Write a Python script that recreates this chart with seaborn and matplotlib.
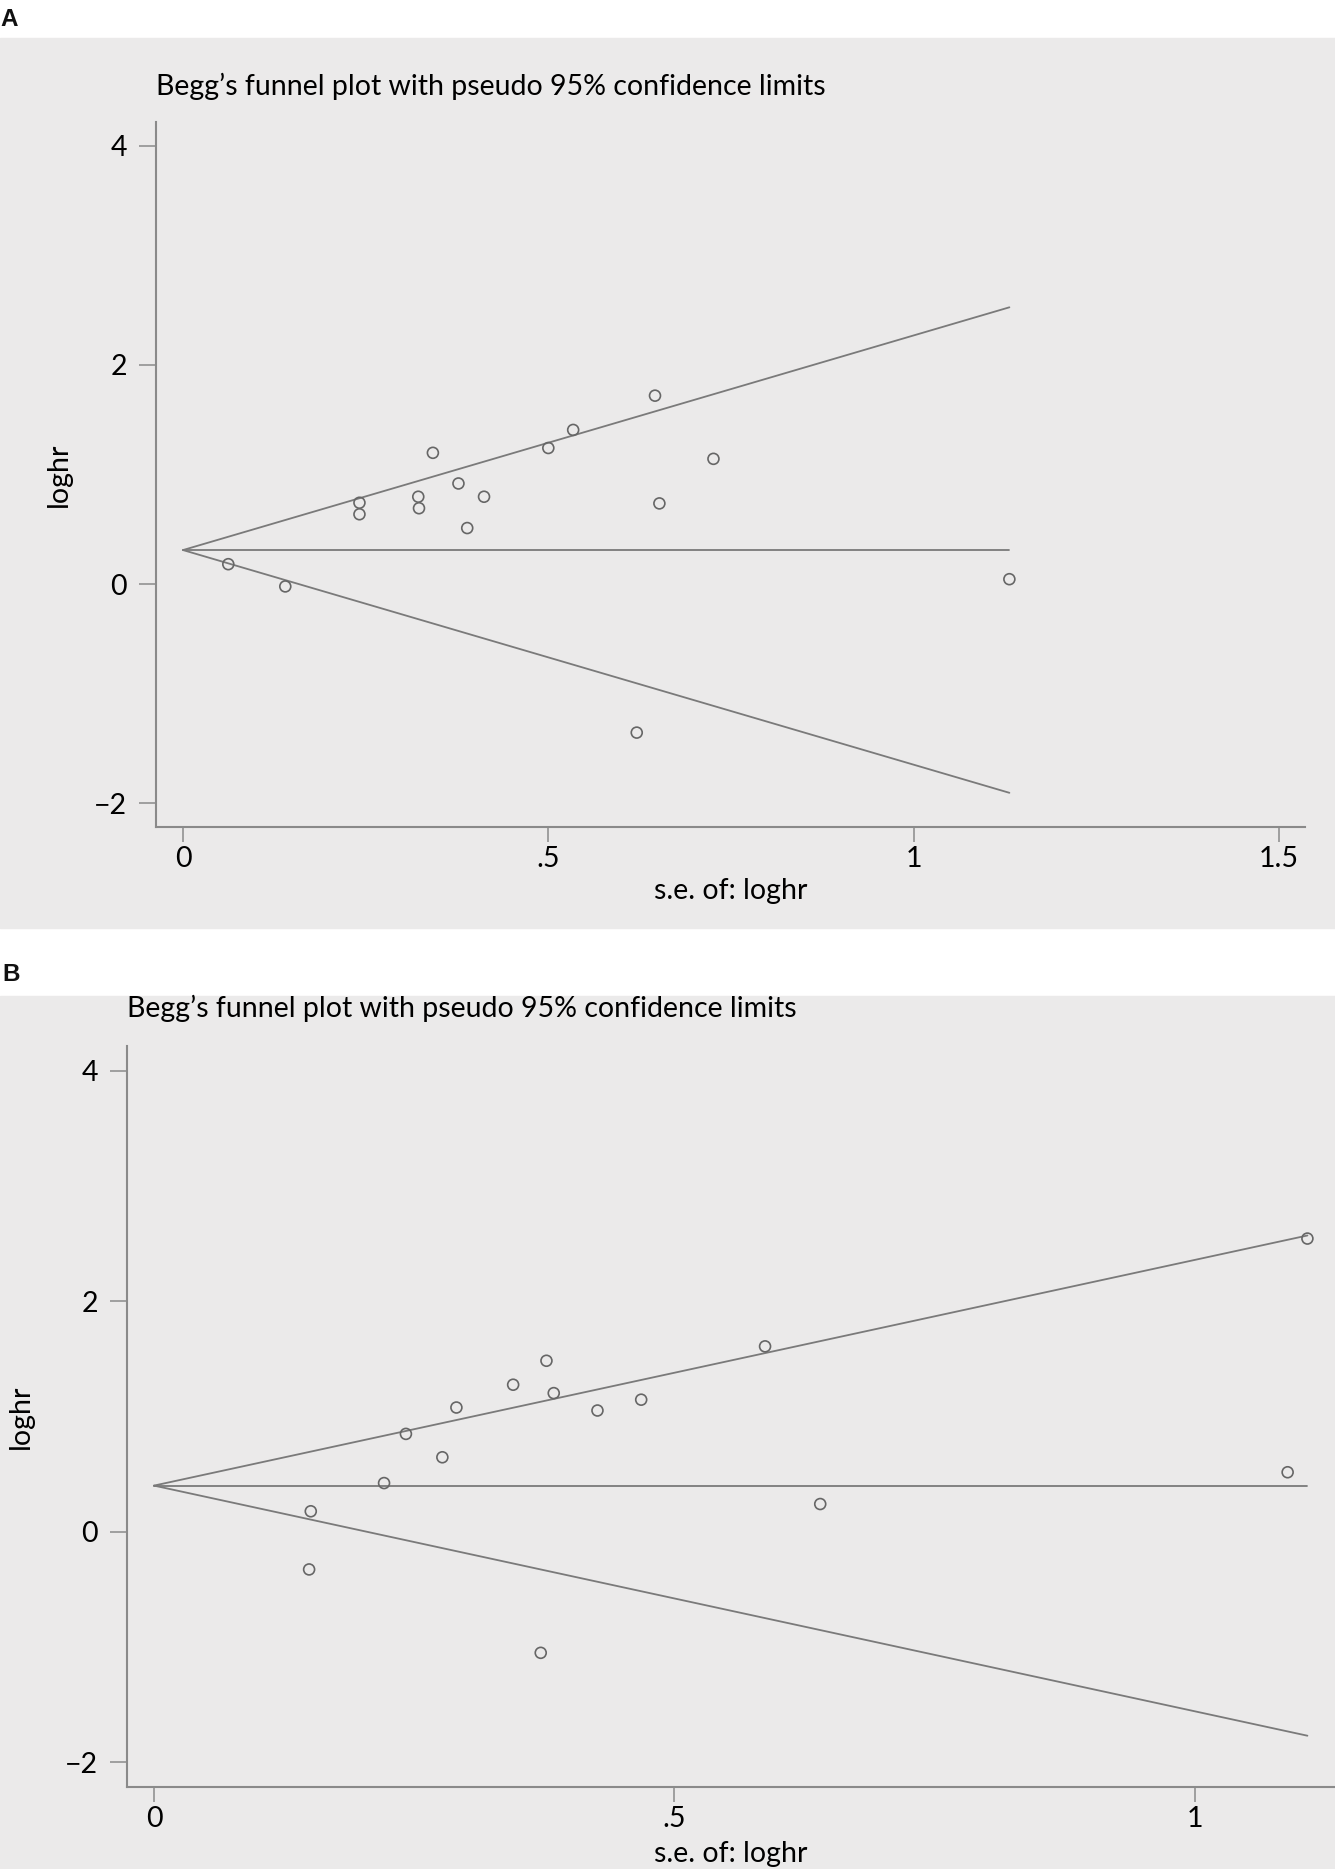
import numpy as np
import pandas as pd
import matplotlib
matplotlib.use("Agg")
import matplotlib.pyplot as plt
import seaborn as sns
from matplotlib.patches import Rectangle

# panel A study estimates (se, log hazard ratio)
se_a = [0.062, 0.140, 0.2415, 0.2415, 0.322, 0.323, 0.342, 0.377, 0.389,
        0.412, 0.500, 0.534, 0.621, 0.646, 0.652, 0.726, 1.131]
loghr_a = [0.181, -0.022, 0.742, 0.637, 0.797, 0.692, 1.198, 0.918, 0.511,
           0.797, 1.242, 1.407, -1.357, 1.720, 0.736, 1.143, 0.044]
pooled_a = 0.31

# panel B study estimates
se_b = [0.1506, 0.149, 0.221, 0.242, 0.277, 0.2905, 0.345, 0.377, 0.384,
        0.3715, 0.426, 0.468, 0.587, 0.640, 1.089, 1.108]
loghr_b = [0.177, -0.328, 0.422, 0.849, 0.646, 1.078, 1.276, 1.484, 1.203,
           -1.052, 1.052, 1.146, 1.609, 0.240, 0.516, 2.545]
pooled_b = 0.40

title = "Begg\u2019s funnel plot with pseudo 95% confidence limits"

sns.set_theme(style="white")
plt.rcParams["font.family"] = ["Lato", "DejaVu Sans"]

W, H = 1335, 1869
fig = plt.figure(figsize=(W / 100, H / 100), dpi=100)
fig.patch.set_facecolor("white")

bg = "#ebeaea"
line_col = "#7a7a7a"
spine_col = "#8a8a8a"
fs = 20.5

# grey panel backgrounds
fig.patches.append(Rectangle((0, 1 - 928 / H), 1, (928 - 38) / H,
                             transform=fig.transFigure, color=bg, zorder=-10))
fig.patches.append(Rectangle((0, 0), 1, (H - 996) / H,
                             transform=fig.transFigure, color=bg, zorder=-10))

fig.text(0.0, 1 - 8 / H, "A", fontsize=17.5, fontweight="bold", va="top",
         ha="left", color="#111111", family=["Liberation Sans", "DejaVu Sans"])
fig.text(0.0015, 1 - 963 / H, "B", fontsize=17.5, fontweight="bold", va="top",
         ha="left", color="#111111", family=["Liberation Sans", "DejaVu Sans"])


def funnel(ax, se, lhr, pooled, xlim, ylim, xticks, xticklabels,
           title_pad, ylab_x, xlab_y):
    ax.set_facecolor("none")
    df = pd.DataFrame({"se": se, "loghr": lhr})
    smax = max(se)
    ax.plot([0, smax], [pooled, pooled + 1.96 * smax], color=line_col, lw=1.3)
    ax.plot([0, smax], [pooled, pooled - 1.96 * smax], color=line_col, lw=1.3)
    ax.plot([0, smax], [pooled, pooled], color=line_col, lw=1.3)
    sns.scatterplot(data=df, x="se", y="loghr", ax=ax, marker="o", s=62,
                    facecolor="none", edgecolor="#666666", linewidth=1.2,
                    zorder=3, clip_on=False)
    ax.set_xlim(*xlim)
    ax.set_ylim(*ylim)
    ax.set_xticks(xticks)
    ax.set_xticklabels(xticklabels)
    ax.set_yticks([-2, 0, 2, 4])
    ax.set_yticklabels(["\u22122", "0", "2", "4"])
    for s in ["top", "right"]:
        ax.spines[s].set_visible(False)
    for s in ["left", "bottom"]:
        ax.spines[s].set_color(spine_col)
        ax.spines[s].set_linewidth(1.5)
    ax.tick_params(axis="y", length=12, width=1.1, color=spine_col, pad=9,
                   labelsize=fs, labelcolor="black", left=True)
    ax.tick_params(axis="x", length=11, width=1.1, color=spine_col, pad=3,
                   labelsize=fs, labelcolor="black", bottom=True)
    ax.set_title(title, loc="left", fontsize=fs, pad=title_pad, color="black")
    ax.set_xlabel("s.e. of: loghr", fontsize=fs, color="black")
    ax.set_ylabel("loghr", fontsize=fs, color="black")
    ax.yaxis.set_label_coords(ylab_x, 0.5)
    ax.xaxis.set_label_coords(0.5, xlab_y)


ax_a = fig.add_axes([156 / W, 1 - 827 / H, (1305 - 156) / W, (827 - 122) / H])
funnel(ax_a, se_a, loghr_a, pooled_a,
       (-0.03695, 1.5356), (-2.219, 4.219),
       [0, 0.5, 1, 1.5], ["0", ".5", "1", "1.5"],
       19.4, -0.0731, -0.0723)

ax_b = fig.add_axes([127 / W, 1 - 1787 / H, (W - 127) / W, (1787 - 1046) / H])
funnel(ax_b, se_b, loghr_b, pooled_b,
       (-0.02594, 1.1345), (-2.217, 4.217),
       [0, 0.5, 1], ["0", ".5", "1"],
       21, -0.0770, -0.0729)

fig.savefig("out.png", dpi=100)
